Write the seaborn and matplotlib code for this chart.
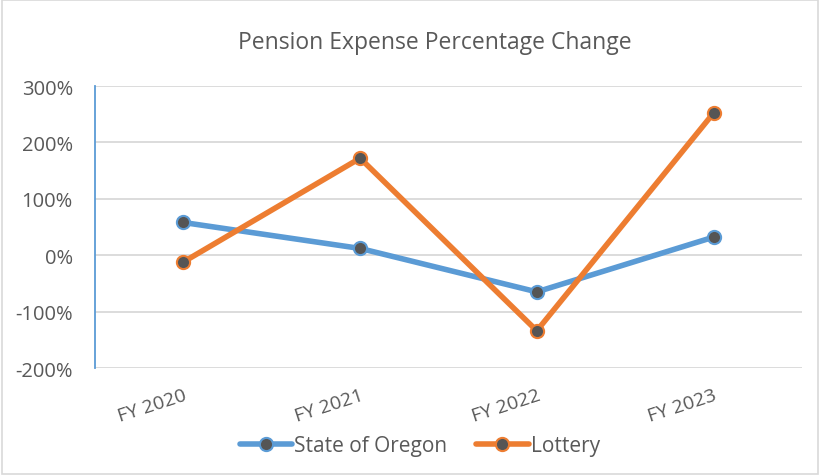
import matplotlib
matplotlib.use("Agg")
import matplotlib.pyplot as plt
import matplotlib.patches as mpatches
from matplotlib.ticker import FuncFormatter
import seaborn as sns
import pandas as pd

# Dados
anos = ["FY 2020", "FY 2021", "FY 2022", "FY 2023"]
state_of_oregon = [58, 12, -65, 32]
lottery = [-12, 172, -134, 252]
series_nomes = ["State of Oregon", "Lottery"]
cores = ["#5B9BD5", "#ED7D31"]

df = pd.DataFrame({
    "ano": anos * 2,
    "valor": state_of_oregon + lottery,
    "serie": [series_nomes[0]] * len(anos) + [series_nomes[1]] * len(anos),
})

sns.set_theme(style="white")
plt.rcParams["font.family"] = ["Open Sans", "DejaVu Sans"]
texto_cor = "#595959"

fig = plt.figure(figsize=(8.2, 4.77), dpi=100)
ax = fig.add_axes([0.1159, 0.2264, 0.862, 0.5912])

sns.lineplot(data=df, x="ano", y="valor", hue="serie", palette=cores,
             marker="o", markersize=9.5, linewidth=4, sort=False,
             legend=False, ax=ax)

for linha, cor in zip(ax.lines, cores):
    linha.set_markerfacecolor("#555555")
    linha.set_markeredgecolor(cor)
    linha.set_markeredgewidth(1.5)

ax.set_xlim(-0.5, 3.5)
ax.set_ylim(-200, 300)
ax.set_yticks(range(-200, 301, 100))
ax.yaxis.set_major_formatter(FuncFormatter(lambda v, p: f"{int(v)}%"))
ax.grid(axis="y", color="#D9D9D9", linewidth=1.3)
ax.set_axisbelow(True)

for lado in ["top", "right", "bottom"]:
    ax.spines[lado].set_visible(False)
ax.spines["left"].set_color("#5B9BD5")
ax.spines["left"].set_linewidth(1.3)

ax.tick_params(axis="y", length=0, pad=16, labelsize=14.5, labelcolor=texto_cor)
ax.tick_params(axis="x", length=0, pad=13, labelsize=14, labelcolor=texto_cor)
ax.set_xticks(range(len(anos)))
ax.set_xticklabels(anos, rotation=18, ha="right", rotation_mode="anchor")
ax.set_xlabel("")
ax.set_ylabel("")

fig.text(0.53, 0.91, "Pension Expense Percentage Change", ha="center",
         va="center", fontsize=16.5, color=texto_cor)

handles = [plt.Line2D([], [], color=c, linewidth=4, marker="o", markersize=9.5,
                      markerfacecolor="#555555", markeredgecolor=c,
                      markeredgewidth=1.5) for c in cores]
fig.legend(handles, series_nomes, loc="center", bbox_to_anchor=(0.512, 0.063),
           ncol=2, frameon=False, fontsize=15, labelcolor=texto_cor,
           handlelength=2.5, handletextpad=0.1, columnspacing=1.4)

# Borda do grafico
fig.patches.append(mpatches.Rectangle((0.003, 0.004), 0.995, 0.994,
                                      transform=fig.transFigure, fill=False,
                                      edgecolor="#D9D9D9", linewidth=1.2))

fig.savefig("out.png", dpi=100)
